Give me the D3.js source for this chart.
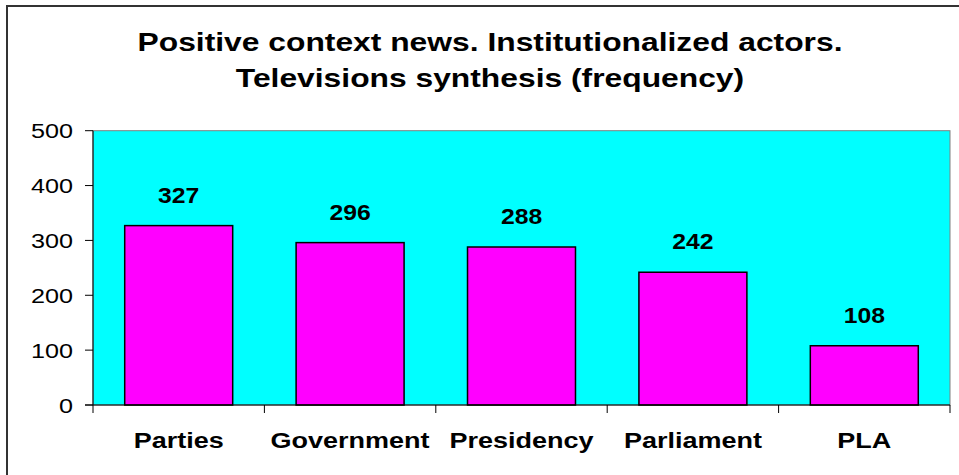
<!DOCTYPE html>
<html>
<head>
<meta charset="utf-8">
<script src="https://cdn.jsdelivr.net/npm/d3@7"></script>
<style>
  body { margin: 0; background: #fff; }
  svg { display: block; font-family: Arial, "Liberation Sans", sans-serif; }
</style>
</head>
<body>
<svg width="959" height="475"></svg>
<script>
var categories = ["Parties", "Government", "Presidency", "Parliament", "PLA"];
var values = [327, 296, 288, 242, 108];
var yTicks = [0, 100, 200, 300, 400, 500];
var titleLines = ["Positive context news. Institutionalized actors.", "Televisions synthesis (frequency)"];

var svg = d3.select("svg"),
    width = +svg.attr("width"),
    height = +svg.attr("height");

var plot = {left: 93, right: 950, top: 130.7, bottom: 405};

// outer frame (runs off right and bottom edges)
svg.append("rect")
    .attr("x", 7).attr("y", 6)
    .attr("width", width + 10).attr("height", height + 10)
    .attr("fill", "#fff")
    .attr("stroke", "#333")
    .attr("stroke-width", 2);

var x = d3.scaleBand()
    .domain(categories)
    .range([plot.left, plot.right])
    .paddingInner(0.37)
    .paddingOuter(0.185);

var y = d3.scaleLinear()
    .domain([0, 500])
    .range([plot.bottom, plot.top]);

// stretched text helper (original chart is horizontally stretched)
function stretched(g, tx, ty, sx) {
    return g.attr("transform", "translate(" + tx + "," + ty + ") scale(" + sx + ",1)");
}

// plot background
svg.append("rect")
    .attr("x", plot.left).attr("y", plot.top)
    .attr("width", plot.right - plot.left)
    .attr("height", plot.bottom - plot.top)
    .attr("fill", "#00ffff")
    .attr("stroke", "#808080")
    .attr("stroke-width", 1);

// bars
svg.append("g").selectAll("rect")
    .data(values)
    .enter().append("rect")
    .attr("x", function(d, i) { return x(categories[i]); })
    .attr("y", function(d) { return y(d); })
    .attr("width", x.bandwidth())
    .attr("height", function(d) { return y(0) - y(d); })
    .attr("fill", "#ff00ff")
    .attr("stroke", "#000")
    .attr("stroke-width", 1.5);

// value labels
svg.append("g").selectAll("text")
    .data(values)
    .enter().append("text")
    .each(function(d, i) {
        stretched(d3.select(this), x(categories[i]) + x.bandwidth() / 2, y(d) - 23, 1.15);
    })
    .attr("text-anchor", "middle")
    .attr("font-size", "21.5px")
    .attr("font-weight", "bold")
    .text(function(d) { return d; });

// y axis
var yAxis = svg.append("g").attr("class", "y-axis");
yAxis.append("line")
    .attr("x1", plot.left).attr("x2", plot.left)
    .attr("y1", y(0)).attr("y2", y(500))
    .attr("stroke", "#000");
yAxis.selectAll("line.tick")
    .data(yTicks)
    .enter().append("line")
    .attr("class", "tick")
    .attr("x1", plot.left - 8).attr("x2", plot.left)
    .attr("y1", function(d) { return y(d); })
    .attr("y2", function(d) { return y(d); })
    .attr("stroke", "#000");
yAxis.selectAll("text")
    .data(yTicks)
    .enter().append("text")
    .each(function(d) { stretched(d3.select(this), 73, y(d) + 7.5, 1.2); })
    .attr("text-anchor", "end")
    .attr("font-size", "21px")
    .text(function(d) { return d; });

// x axis
var xAxis = svg.append("g").attr("class", "x-axis");
xAxis.append("line")
    .attr("x1", plot.left - 8).attr("x2", plot.right)
    .attr("y1", y(0)).attr("y2", y(0))
    .attr("stroke", "#000");
var bounds = categories.map(function(c) { return x(c) - x.step() * x.paddingInner() / 2; });
bounds.push(plot.right);
xAxis.selectAll("line.tick")
    .data(bounds)
    .enter().append("line")
    .attr("class", "tick")
    .attr("x1", function(d) { return d; }).attr("x2", function(d) { return d; })
    .attr("y1", y(0)).attr("y2", y(0) + 8)
    .attr("stroke", "#000");
xAxis.selectAll("text")
    .data(categories)
    .enter().append("text")
    .each(function(d) { stretched(d3.select(this), x(d) + x.bandwidth() / 2, 448, 1.2); })
    .attr("text-anchor", "middle")
    .attr("font-size", "22.5px")
    .attr("font-weight", "bold")
    .text(function(d) { return d; });

// title
svg.append("g").selectAll("text")
    .data(titleLines)
    .enter().append("text")
    .each(function(d, i) { stretched(d3.select(this), 490, 51 + i * 36, 1.2); })
    .attr("text-anchor", "middle")
    .attr("font-size", "26.5px")
    .attr("font-weight", "bold")
    .text(function(d) { return d; });
</script>
</body>
</html>
